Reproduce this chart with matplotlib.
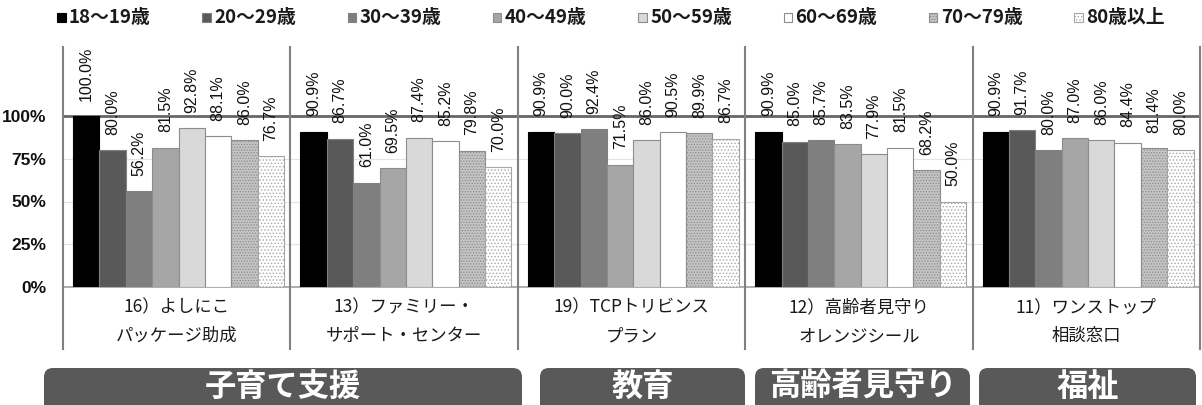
import matplotlib
matplotlib.use('Agg')
import matplotlib.pyplot as plt
import numpy as np
from matplotlib.patches import Rectangle, FancyBboxPatch
from matplotlib.lines import Line2D
from matplotlib.transforms import blended_transform_factory

# ---------------- data ----------------
age_groups = ['18～19歳', '20～29歳', '30～39歳', '40～49歳',
              '50～59歳', '60～69歳', '70～79歳', '80歳以上']
programs_line1 = ['16）よしにこ', '13）ファミリー・', '19）TCPトリビンス',
                  '12）高齢者見守り', '11）ワンストップ']
programs_line2 = ['パッケージ助成', 'サポート・センター', 'プラン',
                  'オレンジシール', '相談窓口']

v18_19 = [100.0, 90.9, 90.9, 90.9, 90.9]
v20_29 = [80.0, 86.7, 90.0, 85.0, 91.7]
v30_39 = [56.2, 61.0, 92.4, 85.7, 80.0]
v40_49 = [81.5, 69.5, 71.5, 83.5, 87.0]
v50_59 = [92.8, 87.4, 86.0, 77.9, 86.0]
v60_69 = [88.1, 85.2, 90.5, 81.5, 84.4]
v70_79 = [86.0, 79.8, 89.9, 68.2, 81.4]
v80_plus = [76.7, 70.0, 86.7, 50.0, 80.0]
series = [v18_19, v20_29, v30_39, v40_49, v50_59, v60_69, v70_79, v80_plus]

domains = ['子育て支援', '教育', '高齢者見守り', '福祉']
ytick_vals = [0, 25, 50, 75, 100]
ytick_labels = ['0%', '25%', '50%', '75%', '100%']

# ---------------- styles ----------------
faces = ['#000000', '#595959', '#7f7f7f', '#a6a6a6', '#d9d9d9', '#ffffff', '#c4c4c4', '#ffffff']
edges = ['#000000', '#808080', '#808080', '#8c8c8c', '#8c8c8c', '#8c8c8c', '#8c8c8c', '#a6a6a6']
hatches = [None, None, None, None, None, None, '......', '.....']

NUMFONT = 'Liberation Sans'
JP = ['Noto Sans CJK JP', 'DejaVu Sans']
plt.rcParams['hatch.linewidth'] = 0.6

W, H = 1202, 405
fig = plt.figure(figsize=(W / 100, H / 100), dpi=100)
y_top_px, y_zero_px = 47.6, 287
ax = fig.add_axes([63 / W, 1 - y_zero_px / H, (1200 - 63) / W, (y_zero_px - y_top_px) / H])
ax.set_xlim(-0.5, 4.5)
ax.set_ylim(0, 140)

x = np.arange(len(programs_line1))
bw = 0.116
offsets = (np.arange(8) - 3.5) * bw + 0.008

for i, vals in enumerate(series):
    bars = ax.bar(x + offsets[i], vals, bw, color=faces[i], edgecolor=edges[i],
                  linewidth=0.8, hatch=hatches[i], zorder=3)
    for b, v in zip(bars, vals):
        ax.annotate(f'{v:.1f}%', (b.get_x() + b.get_width() / 2, v),
                    xytext=(0, 11), textcoords='offset points', rotation=90,
                    ha='center', va='bottom', fontsize=11.5,
                    family=NUMFONT, color='#111111', zorder=5)

# grid / reference line
for yv in [25, 50, 75]:
    ax.axhline(yv, color='#e3e3e3', lw=0.8, zorder=1)
ax.axhline(100, color='#666666', lw=2.0, zorder=2)

for s in ['top', 'right', 'left']:
    ax.spines[s].set_visible(False)
ax.spines['bottom'].set_color('#a0a0a0')
ax.spines['bottom'].set_linewidth(1.2)

ax.set_yticks(ytick_vals)
ax.set_yticklabels(ytick_labels, family=NUMFONT, fontweight='bold',
                   fontsize=12.5, color='#111111')
ax.tick_params(axis='y', length=0, pad=12)
ax.set_xticks([])

# separators extending below the axis
trans = blended_transform_factory(ax.transData, fig.transFigure)
for xs in np.arange(-0.5, 5.0, 1.0):
    ax.add_line(Line2D([xs, xs], [1 - 47 / H, 1 - 349 / H], transform=trans,
                       color='#808080', lw=1.5, clip_on=False, zorder=4))

# category labels
for i in range(len(programs_line1)):
    ax.text(i, 1 - 307 / H, programs_line1[i], transform=trans, ha='center', va='center',
            fontsize=12.5, family=JP, color='#1a1a1a')
    ax.text(i, 1 - 336 / H, programs_line2[i], transform=trans, ha='center', va='center',
            fontsize=12.5, family=JP, color='#1a1a1a')

# overlay in pixel coordinates for legend and domain boxes
ov = fig.add_axes([0, 0, 1, 1])
ov.set_xlim(0, W)
ov.set_ylim(H, 0)
ov.axis('off')

for i, lab in enumerate(age_groups):
    x0 = 57 + i * 145.3
    ov.add_patch(Rectangle((x0, 13), 8.5, 8.5, facecolor=faces[i], edgecolor=edges[i],
                           hatch=hatches[i], lw=0.8))
    ov.text(x0 + 12, 17.5, lab, ha='left', va='center', fontsize=13.5,
            fontweight='bold', family=JP, color='#1a1a1a')

box_spans = [(44, 522), (540, 745), (755, 970), (979, 1196)]
for (x0, x1), name in zip(box_spans, domains):
    ov.add_patch(FancyBboxPatch((x0, 368), x1 - x0, 60,
                                boxstyle='round,pad=0,rounding_size=9',
                                facecolor='#595959', edgecolor='none'))
    ov.text((x0 + x1) / 2, 387, name, ha='center', va='center', fontsize=22.5,
            fontweight='bold', family=JP, color='white')

fig.savefig('out.png', dpi=100)
